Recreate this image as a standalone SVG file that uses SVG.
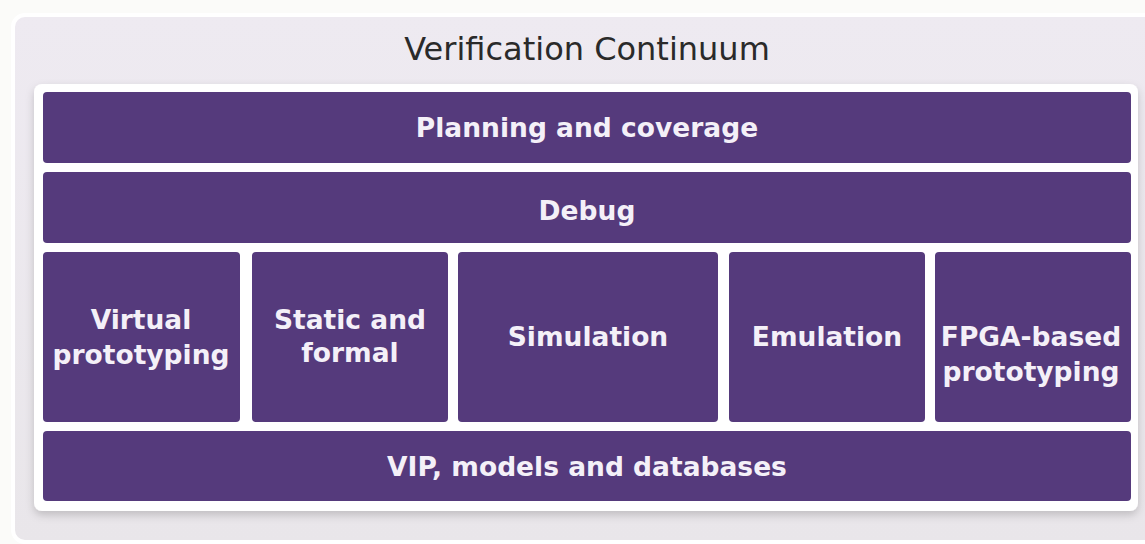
<svg xmlns="http://www.w3.org/2000/svg" width="1145" height="544" viewBox="0 0 1145 544">
<defs>
<filter id="sh" x="-5%" y="-5%" width="110%" height="115%">
<feDropShadow dx="0" dy="4" stdDeviation="4" flood-color="#000" flood-opacity="0.18"/>
</filter>
<linearGradient id="bg" x1="0" y1="0" x2="0" y2="1">
<stop offset="0" stop-color="#EEEAF1"/>
<stop offset="1" stop-color="#E9E6EA"/>
</linearGradient>
</defs>
<style>
.box{fill:#553A7C;}
.lbl{font-family:"DejaVu Sans",Verdana,sans-serif;font-weight:bold;font-size:26.5px;fill:#F4F0F8;text-anchor:middle;}
.title{font-family:"DejaVu Sans",Verdana,sans-serif;font-size:32px;fill:#2a2a2a;text-anchor:middle;}
</style>
<rect x="0" y="0" width="1145" height="544" fill="#FBFBF9"/>
<rect x="13" y="15" width="1150" height="527" rx="12" fill="url(#bg)" stroke="#ffffff" stroke-width="4"/>
<text class="title" x="587" y="60">Verification Continuum</text>
<rect x="34" y="84" width="1104" height="427" rx="8" fill="#ffffff" filter="url(#sh)"/>
<g id="planning"><rect class="box" x="43" y="92" width="1088" height="71" rx="4"/><text class="lbl" x="587" y="137">Planning and coverage</text></g>
<g id="debug"><rect class="box" x="43" y="172" width="1088" height="71" rx="4"/><text class="lbl" x="587" y="220">Debug</text></g>
<g id="virtual"><rect class="box" x="43" y="252" width="197" height="170" rx="4"/><text class="lbl" x="141" y="329">Virtual</text><text class="lbl" x="141" y="364">prototyping</text></g>
<g id="static"><rect class="box" x="252" y="252" width="196" height="170" rx="4"/><text class="lbl" x="350" y="329">Static and</text><text class="lbl" x="350" y="362">formal</text></g>
<g id="simulation"><rect class="box" x="458" y="252" width="260" height="170" rx="4"/><text class="lbl" x="588" y="346">Simulation</text></g>
<g id="emulation"><rect class="box" x="729" y="252" width="196" height="170" rx="4"/><text class="lbl" x="827" y="346">Emulation</text></g>
<g id="fpga"><rect class="box" x="935" y="252" width="196" height="170" rx="4"/><text class="lbl" x="1031" y="346">FPGA-based</text><text class="lbl" x="1031" y="381">prototyping</text></g>
<g id="vip"><rect class="box" x="43" y="431" width="1088" height="70" rx="4"/><text class="lbl" x="587" y="476">VIP, models and databases</text></g>
<g id="connectors"></g>
</svg>
